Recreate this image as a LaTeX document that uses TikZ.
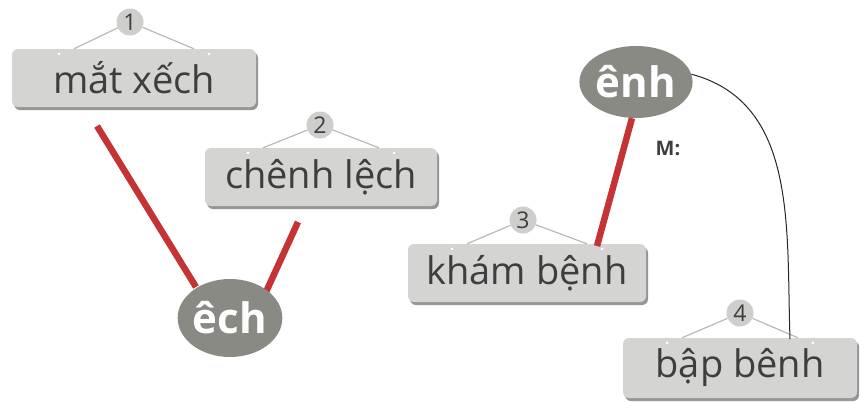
\documentclass[tikz,border=0pt]{standalone}
\usepackage{fontspec}
\setmainfont{Open Sans}
\usetikzlibrary{shadows,shapes.geometric}
\definecolor{boxfill}{RGB}{212,212,210}
\definecolor{boxshadow}{RGB}{150,150,148}
\definecolor{txt}{RGB}{62,62,62}
\definecolor{ellfill}{RGB}{138,138,132}
\definecolor{redline}{RGB}{196,52,52}
\definecolor{numfill}{RGB}{206,206,204}
\definecolor{hang}{RGB}{185,185,185}
\tikzset{
  word/.style={rectangle, rounded corners=6pt, fill=boxfill, text=txt,
    font=\fontsize{38}{38}\selectfont, inner sep=0pt,
    drop shadow={shadow xshift=2pt, shadow yshift=-3pt, fill=boxshadow, opacity=1}},
  syl/.style={ellipse, fill=ellfill, text=white, inner sep=0pt,
    font=\bfseries\fontsize{42}{42}\selectfont},
  num/.style={circle, fill=numfill, text=txt, minimum size=27pt, inner sep=0pt,
    font=\fontsize{23}{23}\selectfont},
  hangline/.style={draw=hang, line width=1.2pt},
  redlink/.style={draw=redline, line width=6.5pt},
  dot/.style={circle, fill=white, minimum size=3pt, inner sep=0pt}
}
\begin{document}
\begin{tikzpicture}[x=1pt,y=-1pt]
\useasboundingbox (0,0) rectangle (860,402);
% coordinates for free ends
\coordinate (r1a) at (97,126);
\coordinate (r1b) at (196,287);
\coordinate (r2a) at (298,222);
\coordinate (r2b) at (266,292);
\coordinate (r3b) at (597,246);
\coordinate (c4) at (790,339);
% number labels
\node[num] (n1) at (130,22) {1};
\node[num] (n2) at (320,125) {2};
\node[num] (n3) at (523,220) {3};
\node[num] (n4) at (740,313) {4};
% red links
\draw[redlink] (r1a) -- (r1b);
\draw[redlink] (r2a) -- (r2b);
% boxes
\node[word, minimum width=244pt, minimum height=58pt] (b1) at (134,78) {mắt xếch};
\node[word, minimum width=232pt, minimum height=58pt] (b2) at (321,177) {chênh lệch};
\node[word, minimum width=238pt, minimum height=58pt] (b3) at (527,273) {khám bệnh};
\node[word, minimum width=234pt, minimum height=60pt] (b4) at (740,368) {bập bênh};
\foreach \b/\n/\d in {b1/n1/60, b2/n2/58, b3/n3/60, b4/n4/58}{
  \pgfmathsetmacro{\dd}{\d+15}
  \draw[hangline] (\n) -- ([xshift=-\d pt]\b.north);
  \draw[hangline] (\n) -- ([xshift=\d pt]\b.north);
  \node[dot] at ([xshift=-\dd pt, yshift=-5pt]\b.north) {};
  \node[dot] at ([xshift=\dd pt, yshift=-5pt]\b.north) {};
}
% syllable ellipses
\node[syl, minimum width=100pt, minimum height=78pt] (e1) at (230,318) {êch};
\node[syl, minimum width=104pt, minimum height=72pt] (e2) at (636,82) {ênh};
\draw[redlink] ([xshift=-4pt]e2.south) -- (r3b);
\draw[black!85, line width=1pt] (e2.8) to[out=-15, in=92] (c4);
\node[font=\bfseries\fontsize{20}{20}\selectfont, text=txt] (m) at (668,148) {M:};
\end{tikzpicture}
\end{document}
